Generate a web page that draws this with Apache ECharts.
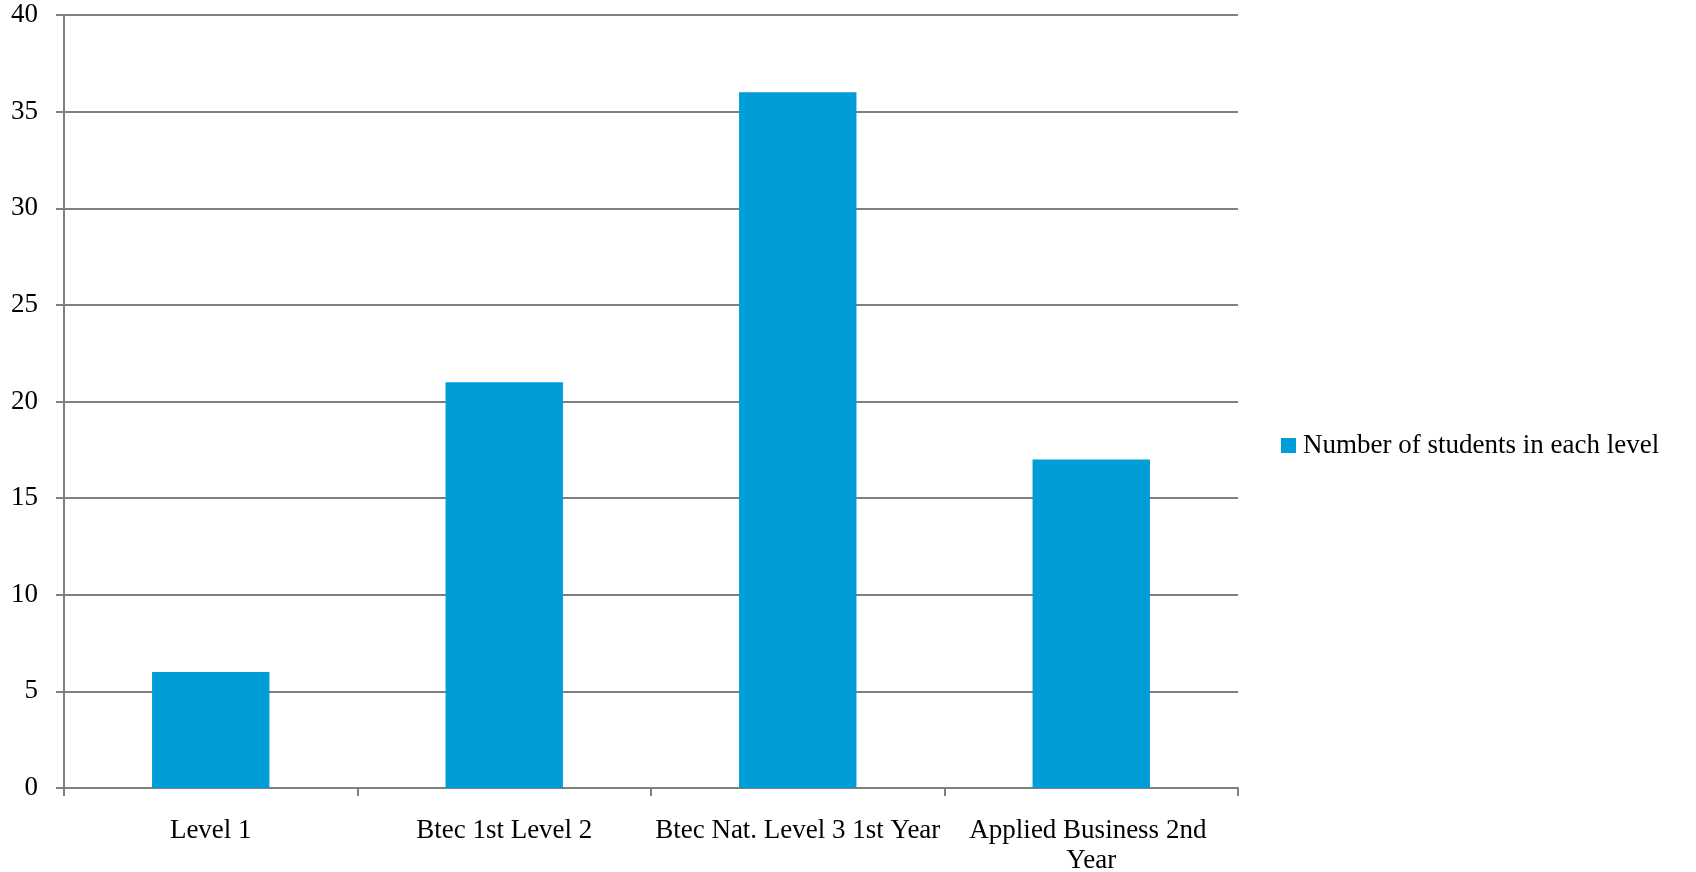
<!DOCTYPE html>
<html>
<head>
<meta charset="utf-8">
<script src="https://cdn.jsdelivr.net/npm/echarts@6/dist/echarts.min.js"></script>
<style>
  html, body { margin: 0; padding: 0; background: #ffffff; }
  #chart { width: 1696px; height: 872px; }
</style>
</head>
<body>
<div id="chart"></div>
<script>
// Course levels and head counts
const categories = ['Level 1', 'Btec 1st Level 2', 'Btec Nat. Level 3 1st Year', 'Applied Business 2nd Year'];
const students = [6, 21, 36, 17];
const seriesName = 'Number of students in each level';

const FONT = '"Liberation Serif", "DejaVu Serif", serif';
const LINE = '#7f7f7f';

const chart = echarts.init(document.getElementById('chart'));
chart.setOption({
  backgroundColor: '#ffffff',
  animation: false,
  textStyle: { fontFamily: FONT, color: '#000' },
  grid: { left: 64, right: 458, top: 15, bottom: 84, containLabel: false, outerBoundsMode: 'none' },
  legend: {
    data: [seriesName],
    left: 1281,
    top: 432,
    padding: 0,
    icon: 'rect',
    itemWidth: 15,
    itemHeight: 15,
    textStyle: { fontFamily: FONT, fontSize: 27, color: '#000', padding: [0, 0, 0, 2] }
  },
  xAxis: {
    type: 'category',
    data: categories,
    axisLine: { lineStyle: { color: LINE, width: 2 } },
    axisTick: { show: true, length: 8, lineStyle: { color: LINE, width: 2 } },
    axisLabel: {
      fontFamily: FONT, fontSize: 27, color: '#000', margin: 28,
      width: 291, overflow: 'break', lineHeight: 30, interval: 0
    },
    splitLine: { show: false }
  },
  yAxis: {
    type: 'value',
    min: 0, max: 40, interval: 5,
    axisLine: { show: true, lineStyle: { color: LINE, width: 2 } },
    axisTick: { show: true, length: 8, lineStyle: { color: LINE, width: 2 } },
    axisLabel: { fontFamily: FONT, fontSize: 27, color: '#000', margin: 26 },
    splitLine: { show: true, lineStyle: { color: LINE, width: 2 } }
  },
  series: [{
    name: seriesName,
    type: 'bar',
    data: students,
    barWidth: '40%',
    itemStyle: { color: '#009dd9' }
  }]
});
</script>
</body>
</html>
